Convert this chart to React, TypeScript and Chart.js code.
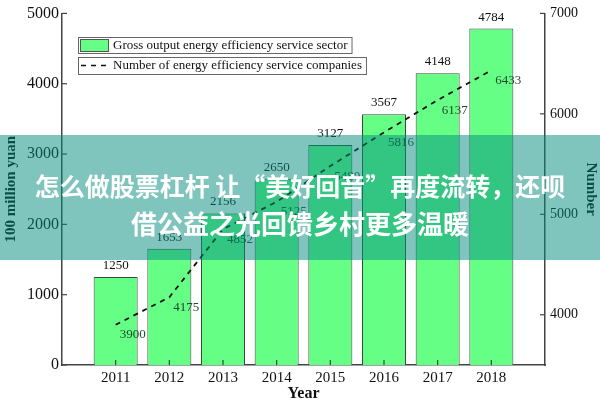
import React, { useEffect, useRef } from "react";
import { Chart, registerables } from "chart.js";

Chart.register(...registerables);

const years = [2011, 2012, 2013, 2014, 2015, 2016, 2017, 2018];
const grossOutput = [1250, 1653, 2156, 2650, 3127, 3567, 4148, 4784];
const companies = [3900, 4175, 4852, 5125, 5480, 5816, 6137, 6433];
const leftTicks = [0, 1000, 2000, 3000, 4000, 5000];
const rightTicks = [4000, 5000, 6000, 7000];
const barLabel = "Gross output energy efficiency service sector";
const lineLabel = "Number of energy efficiency service companies";
const bannerLine1 = "怎么做股票杠杆 让“美好回音”再度流转，还呗";
const bannerLine2 = "借公益之光回馈乡村更多温暖";

const SERIF = "'Liberation Serif', 'Times New Roman', serif";
const BAR_COLOR = "#66ff86";
const AXIS_COLOR = "#444";

const inwardTicks = {
  id: "inwardTicks",
  afterDraw(chart: any) {
    const ctx = chart.ctx;
    const { left, right, bottom } = chart.chartArea;
    ctx.save();
    ctx.strokeStyle = AXIS_COLOR;
    ctx.lineWidth = 1.2;
    const ys = chart.scales.y;
    leftTicks.forEach((v) => {
      const p = ys.getPixelForValue(v);
      ctx.beginPath();
      ctx.moveTo(left, p);
      ctx.lineTo(left + 5, p);
      ctx.stroke();
    });
    const y1 = chart.scales.y1;
    rightTicks.forEach((v) => {
      const p = y1.getPixelForValue(v);
      ctx.beginPath();
      ctx.moveTo(right, p);
      ctx.lineTo(right - 5, p);
      ctx.stroke();
    });
    const xs = chart.scales.x;
    years.forEach((yr) => {
      const p = xs.getPixelForValue(yr);
      ctx.beginPath();
      ctx.moveTo(p, bottom);
      ctx.lineTo(p, bottom - 5);
      ctx.stroke();
    });
    ctx.restore();
  },
};

const valueLabels = {
  id: "valueLabels",
  afterDatasetsDraw(chart: any) {
    const ctx = chart.ctx;
    ctx.save();
    const barMeta = chart.getDatasetMeta(0);
    ctx.font = `13px ${SERIF}`;
    ctx.fillStyle = "#111";
    ctx.textAlign = "center";
    ctx.textBaseline = "bottom";
    barMeta.data.forEach((el: any, i: number) => {
      ctx.fillText(String(grossOutput[i]), el.x, el.y - 5);
    });
    const lineMeta = chart.getDatasetMeta(1);
    ctx.fillStyle = "#1d4a2c";
    ctx.textAlign = "left";
    ctx.textBaseline = "middle";
    lineMeta.data.forEach((el: any, i: number) => {
      ctx.fillText(String(companies[i]), el.x + 4, el.y + 10);
    });
    ctx.restore();
  },
};

const boxLegend = {
  id: "boxLegend",
  afterDraw(chart: any) {
    const ctx = chart.ctx;
    ctx.save();
    ctx.font = `13px ${SERIF}`;
    ctx.textBaseline = "middle";
    ctx.textAlign = "left";
    const w1 = ctx.measureText(barLabel).width;
    ctx.fillStyle = "#fff";
    ctx.fillRect(78, 37, 113 - 78 + w1 + 4, 16);
    ctx.strokeStyle = "#666";
    ctx.lineWidth = 1;
    ctx.strokeRect(78.5, 37.5, 113 - 78 + w1 + 4, 16);
    ctx.fillStyle = BAR_COLOR;
    ctx.fillRect(80.5, 39.5, 28, 12);
    ctx.strokeStyle = "#555";
    ctx.strokeRect(80.5, 39.5, 28, 12);
    ctx.fillStyle = "#111";
    ctx.fillText(barLabel, 113, 46);
    const w2 = ctx.measureText(lineLabel).width;
    ctx.fillStyle = "#fff";
    ctx.fillRect(78, 57, 113 - 78 + w2 + 4, 17);
    ctx.strokeStyle = "#666";
    ctx.strokeRect(78.5, 57.5, 113 - 78 + w2 + 4, 17);
    ctx.strokeStyle = "#111";
    ctx.lineWidth = 1.5;
    ctx.setLineDash([5, 5]);
    ctx.beginPath();
    ctx.moveTo(81, 65.5);
    ctx.lineTo(110, 65.5);
    ctx.stroke();
    ctx.setLineDash([]);
    ctx.fillStyle = "#111";
    ctx.fillText(lineLabel, 113, 66);
    ctx.restore();
  },
};

export default function App() {
  const ref = useRef<HTMLCanvasElement | null>(null);

  useEffect(() => {
    if (!ref.current) return;
    const chart = new Chart(ref.current, {
      type: "bar",
      data: {
        datasets: [
          {
            type: "bar",
            label: barLabel,
            data: years.map((x, i) => ({ x, y: grossOutput[i] })),
            backgroundColor: BAR_COLOR,
            borderColor: "#3a4a3a",
            borderWidth: 1,
            barPercentage: 0.82,
            categoryPercentage: 1,
            yAxisID: "y",
            order: 2,
          },
          {
            type: "line",
            label: lineLabel,
            data: years.map((x, i) => ({ x, y: companies[i] })),
            borderColor: "#111",
            borderWidth: 1.8,
            borderDash: [5, 5],
            pointRadius: 0,
            tension: 0,
            fill: false,
            yAxisID: "y1",
            order: 1,
          },
        ] as any,
      },
      options: {
        animation: false,
        responsive: false,
        layout: { padding: { top: 5, left: 0, right: 0, bottom: 0 } },
        plugins: { legend: { display: false }, tooltip: { enabled: false } },
        scales: {
          x: {
            type: "linear",
            min: 2010,
            max: 2019,
            offset: false,
            grid: { display: false, drawTicks: false, offset: false },
            border: { display: true, color: AXIS_COLOR, width: 1.5 },
            afterBuildTicks: (s: any) => {
              s.ticks = years.map((v) => ({ value: v }));
            },
            ticks: {
              padding: 4,
              color: "#111",
              font: { family: SERIF, size: 15 },
              callback: (v: any) => String(v),
            },
            title: {
              display: true,
              text: "Year",
              color: "#111",
              font: { family: SERIF, size: 16, weight: "bold" },
              padding: { top: 0, bottom: -3 },
            },
            afterFit: (s: any) => {
              s.height = 35;
            },
          },
          y: {
            type: "linear",
            position: "left",
            min: 0,
            max: 5000,
            grid: { display: false, drawTicks: false },
            border: { display: true, color: AXIS_COLOR, width: 1.5 },
            afterBuildTicks: (s: any) => {
              s.ticks = leftTicks.map((v) => ({ value: v }));
            },
            ticks: {
              padding: 3,
              color: "#111",
              font: { family: SERIF, size: 16 },
              callback: (v: any) => String(v),
            },
            title: {
              display: true,
              text: "100 million yuan",
              color: "#111",
              font: { family: SERIF, size: 15, weight: "bold" },
              padding: { top: 2, bottom: 0 },
            },
            afterFit: (s: any) => {
              s.width = 62;
            },
          },
          y1: {
            type: "linear",
            position: "right",
            min: 3500,
            max: 7000,
            grid: { display: false, drawTicks: false },
            border: { display: true, color: AXIS_COLOR, width: 1.5 },
            afterBuildTicks: (s: any) => {
              s.ticks = rightTicks.map((v) => ({ value: v }));
            },
            ticks: {
              padding: 5,
              color: "#111",
              font: { family: SERIF, size: 14 },
              callback: (v: any) => String(v),
            },
            title: {
              display: true,
              text: "Number",
              color: "#111",
              font: { family: SERIF, size: 15, weight: "bold" },
              padding: { top: 0, bottom: 2 },
            },
            afterFit: (s: any) => {
              s.width = 55;
            },
          },
        },
      } as any,
      plugins: [inwardTicks, valueLabels, boxLegend],
    });
    return () => chart.destroy();
  }, []);

  return (
    <div style={{ position: "fixed", left: 0, top: 0, width: 600, height: 400, background: "#fff" }}>
      <canvas ref={ref} width={600} height={400} style={{ width: 600, height: 400, display: "block" }} />
      <div
        style={{
          position: "absolute",
          left: 0,
          top: 135,
          width: 600,
          height: 125,
          background: "rgba(0,140,125,0.5)",
          color: "#fff",
          fontFamily: "'Noto Sans CJK SC', sans-serif",
          fontWeight: "bold",
          fontSize: 25,
          lineHeight: "37px",
          textAlign: "center",
          paddingTop: 32,
          boxSizing: "border-box",
          whiteSpace: "nowrap",
        }}
      >
        <div>{bannerLine1}</div>
        <div style={{ fontSize: 26 }}>{bannerLine2}</div>
      </div>
    </div>
  );
}
